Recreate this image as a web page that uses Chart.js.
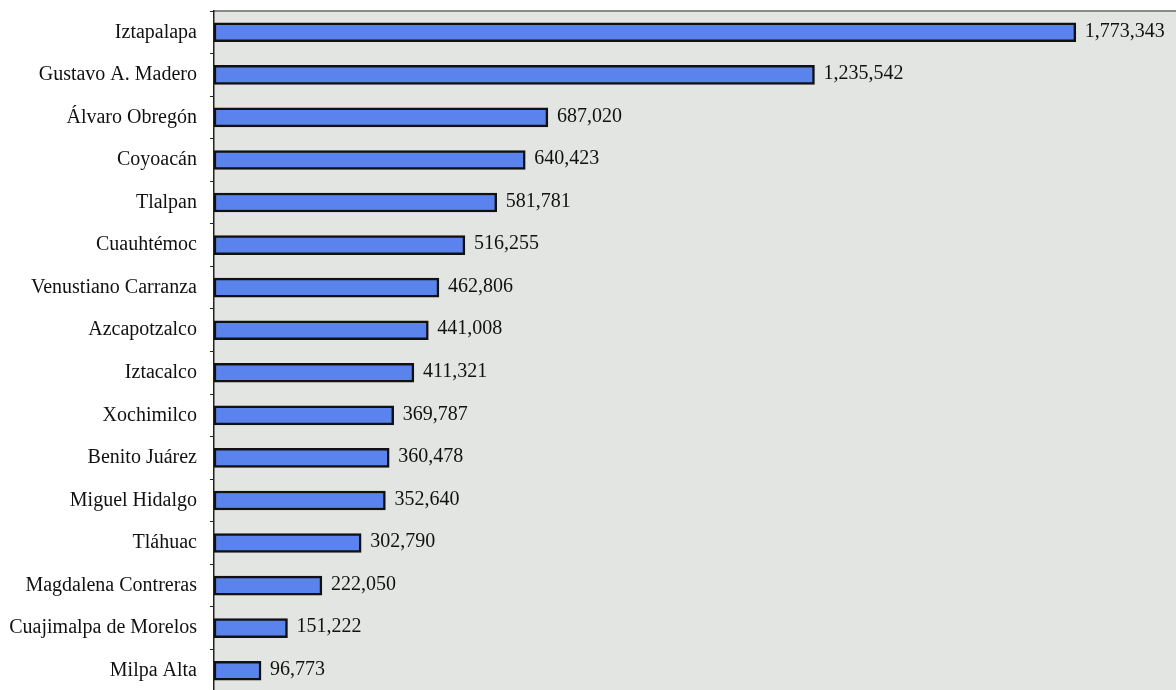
<!DOCTYPE html>
<html>
<head>
<meta charset="utf-8">
<script src="https://cdn.jsdelivr.net/npm/chart.js@4/dist/chart.umd.min.js"></script>
<style>
  html, body { margin: 0; padding: 0; background: #fff; overflow: hidden; }
  #wrap { width: 1190px; height: 731px; margin-top: -14px; }
</style>
</head>
<body>
<div id="wrap"><canvas id="chart"></canvas></div>
<script>
// ── Data ─────────────────────────────────────────────────
const delegaciones = [
    'Iztapalapa', 'Gustavo A. Madero', 'Álvaro Obregón', 'Coyoacán', 'Tlalpan',
    'Cuauhtémoc', 'Venustiano Carranza', 'Azcapotzalco', 'Iztacalco', 'Xochimilco',
    'Benito Juárez', 'Miguel Hidalgo', 'Tláhuac', 'Magdalena Contreras',
    'Cuajimalpa de Morelos', 'Milpa Alta'
];
const poblacion = [
    1773343, 1235542, 687020, 640423, 581781,
    516255, 462806, 441008, 411321, 369787,
    360478, 352640, 302790, 222050,
    151222, 96773
];
const xMin = 0;
const xMax = 2000000;

// ── Plugins ──────────────────────────────────────────────
const plotBackground = {
    id: 'plotBackground',
    beforeDraw(chart) {
        const { ctx, chartArea: a } = chart;
        ctx.save();
        ctx.fillStyle = '#e3e5e2';
        ctx.fillRect(a.left, a.top, a.right - a.left, a.bottom - a.top);
        // top border of the plot area
        ctx.strokeStyle = '#8a8a8a';
        ctx.lineWidth = 2;
        ctx.beginPath();
        ctx.moveTo(a.left, a.top);
        ctx.lineTo(a.right, a.top);
        ctx.stroke();
        ctx.restore();
    }
};

const valueLabels = {
    id: 'valueLabels',
    afterDatasetsDraw(chart) {
        const { ctx } = chart;
        const meta = chart.getDatasetMeta(0);
        const xs = chart.scales.x;
        ctx.save();
        ctx.font = '20px "Liberation Serif", "Times New Roman", serif';
        ctx.fillStyle = '#111';
        ctx.textBaseline = 'middle';
        ctx.textAlign = 'left';
        meta.data.forEach((bar, i) => {
            const v = poblacion[i];
            ctx.fillText(v.toLocaleString('en-US'), xs.getPixelForValue(v) + 9, bar.y - 1);
        });
        ctx.restore();
    }
};

// ── Chart ────────────────────────────────────────────────
new Chart(document.getElementById('chart'), {
    type: 'bar',
    data: {
        labels: delegaciones,
        datasets: [{
            data: poblacion,
            backgroundColor: '#5b83ee',
            borderColor: '#111',
            borderWidth: 2.5,
            borderSkipped: false,
            barThickness: 19
        }]
    },
    options: {
        indexAxis: 'y',
        responsive: true,
        maintainAspectRatio: false,
        animation: false,
        layout: { padding: { top: 0, right: 4, bottom: 0, left: 0 } },
        plugins: {
            legend: { display: false },
            tooltip: { enabled: false }
        },
        scales: {
            x: {
                display: false,
                min: xMin,
                max: xMax
            },
            y: {
                offset: true,
                afterFit: s => { s.width = 214; },
                ticks: {
                    color: '#111',
                    padding: 13,
                    font: { family: '"Liberation Serif", "Times New Roman", serif', size: 20 }
                },
                grid: {
                    offset: true,
                    drawOnChartArea: false,
                    drawTicks: true,
                    tickLength: 4,
                    color: '#222',
                    lineWidth: 1
                },
                border: { display: true, color: '#222', width: 1.5 }
            }
        }
    },
    plugins: [plotBackground, valueLabels]
});
</script>
</body>
</html>
